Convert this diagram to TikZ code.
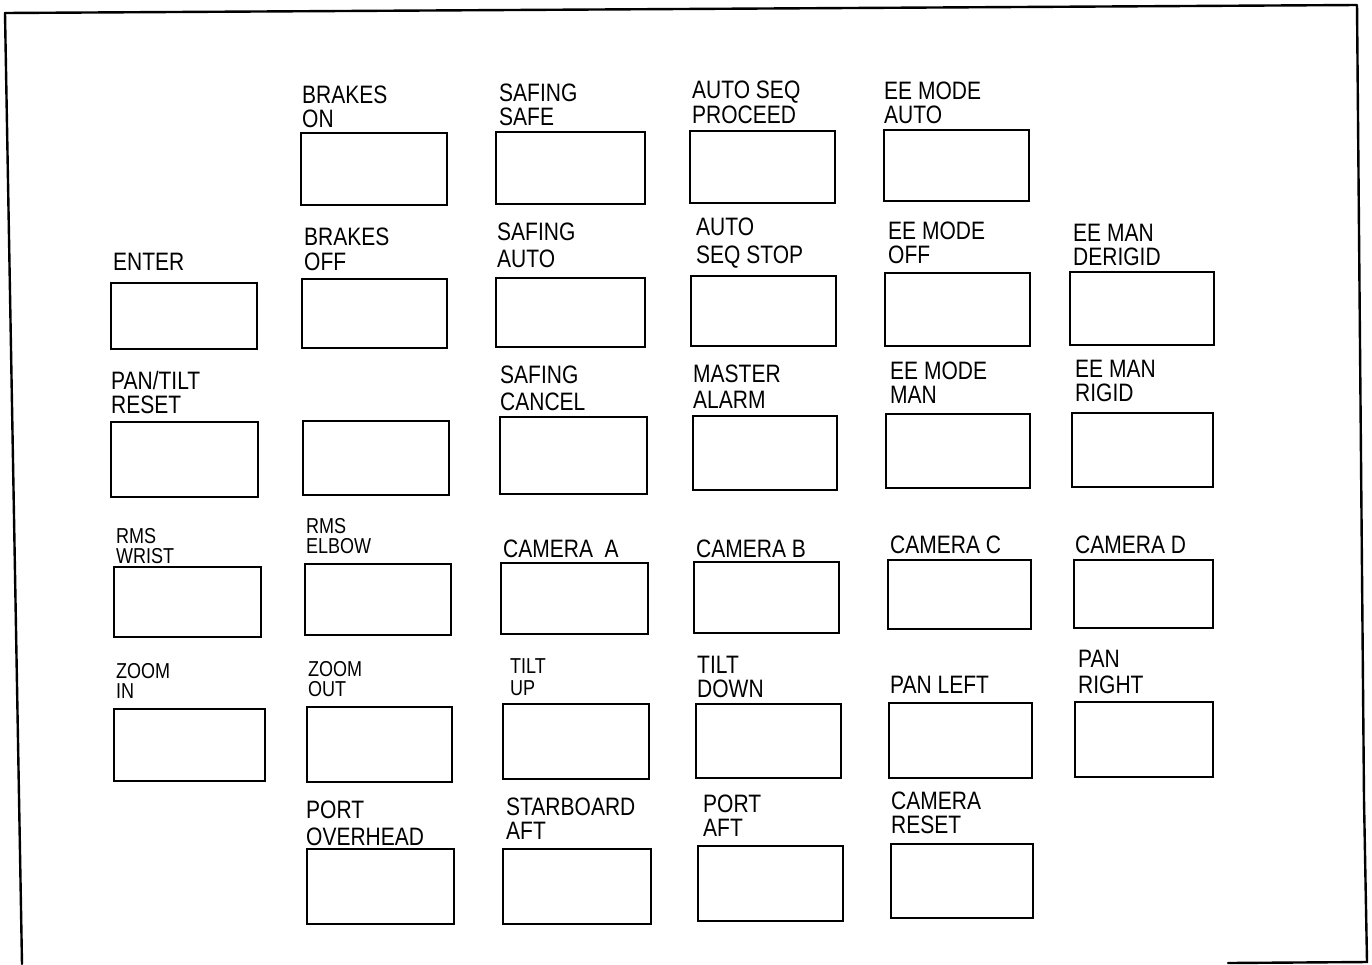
\documentclass[tikz,border=0pt]{standalone}
\usepackage{fontspec}
\usepackage{graphicx}
\setmainfont{Liberation Sans}
\newcommand\stretchy[1]{\scalebox{1}[1.2]{#1}}
\newcommand\twoline[3]{\stretchy{\vtop{\baselineskip=\dimexpr #1pt*5/6\relax\hbox{#2}\hbox{#3}}}}
\newcommand\oneline[1]{\stretchy{#1}}
\begin{document}
\begin{tikzpicture}[x=1pt,y=-1pt,
  frame/.style={line width=2.4pt,line cap=round,line join=round},
  btn/.style={draw,line width=1.9pt,rectangle,inner sep=0pt,anchor=north west},
  lbl/.style={anchor=base west,inner sep=0pt,font=\fontsize{21}{24}\selectfont},
  slbl/.style={anchor=base west,inner sep=0pt,font=\fontsize{18}{21}\selectfont}]
\useasboundingbox (0,0) rectangle (1372,964);
% outer frame
\coordinate (fbl) at (22,964);
\coordinate (ftl) at (5,13);
\coordinate (ftr) at (1357,5);
\coordinate (fmr) at (1364,800);
\coordinate (fbr) at (1367,962);
\coordinate (fbx) at (1228,963);
\draw[frame] (fbl) -- (ftl) -- (ftr) -- (fmr) -- (fbr) -- (fbx);
% boxes
\foreach \n/\xa/\ya/\xb/\yb in {
  bon/300/132/446/204, ssafe/495/131/644/203, aproc/689/130/834/202, eauto/883/129/1028/200,
  enter/110/282/256/348, boff/301/278/446/347, sauto/495/277/644/346, astop/690/275/835/345, eoff/884/272/1029/345, ederigid/1069/271/1213/344,
  ptreset/110/421/257/496, blank/302/420/448/494, scancel/499/416/646/493, malarm/692/415/836/489, eman/885/413/1029/487, erigid/1071/412/1212/486,
  wrist/113/566/260/636, elbow/304/563/450/634, cama/500/562/647/633, camb/693/561/838/632, camc/887/559/1030/628, camd/1073/559/1212/627,
  zin/113/708/264/780, zout/306/706/451/781, tup/502/703/648/778, tdown/695/703/840/777, pleft/888/702/1031/777, pright/1074/701/1212/776,
  portoh/306/848/453/923, stbaft/502/848/650/923, portaft/697/845/842/920, camreset/890/843/1032/917}
  { \node[btn,minimum width={(\xb-\xa)*1pt},minimum height={(\yb-\ya)*1pt}] (\n) at (\xa,\ya) {}; }
% labels row 0
\node[lbl] (l-bon) at (302,103) {\twoline{24}{BRAKES}{ON}};
\node[lbl] (l-ssafe) at (499,101) {\twoline{24}{SAFING}{SAFE}};
\node[lbl] (l-aproc) at (692,98) {\twoline{25}{AUTO SEQ}{PROCEED}};
\node[lbl] (l-eauto) at (884,99) {\twoline{24}{EE MODE}{AUTO}};
% row 1
\node[lbl] (l-enter) at (113,270) {\oneline{ENTER}};
\node[lbl] (l-boff) at (304,245) {\twoline{25}{BRAKES}{OFF}};
\node[lbl] (l-sauto) at (497,240) {\twoline{27}{SAFING}{AUTO}};
\node[lbl] (l-astop) at (696,235) {\twoline{28}{AUTO}{SEQ STOP}};
\node[lbl] (l-eoff) at (888,239) {\twoline{24}{EE MODE}{OFF}};
\node[lbl] (l-ederigid) at (1073,241) {\twoline{24}{EE MAN}{DERIGID}};
% row 2
\node[lbl] (l-ptreset) at (111,389) {\twoline{24}{PAN/TILT}{RESET}};
\node[lbl] (l-scancel) at (500,383) {\twoline{27}{SAFING}{CANCEL}};
\node[lbl] (l-malarm) at (693,382) {\twoline{26}{MASTER}{ALARM}};
\node[lbl] (l-eman) at (890,379) {\twoline{24}{EE MODE}{MAN}};
\node[lbl] (l-erigid) at (1075,377) {\twoline{24}{EE MAN}{RIGID}};
% row 3
\node[slbl] (l-wrist) at (116,543) {\twoline{20}{RMS}{WRIST}};
\node[slbl] (l-elbow) at (306,533) {\twoline{20}{RMS}{ELBOW}};
\node[lbl] (l-cama) at (503,557) {\oneline{CAMERA\ \ A}};
\node[lbl] (l-camb) at (696,557) {\oneline{CAMERA\ B}};
\node[lbl] (l-camc) at (890,553) {\oneline{CAMERA C}};
\node[lbl] (l-camd) at (1075,553) {\oneline{CAMERA D}};
% row 4
\node[slbl] (l-zin) at (116,678) {\twoline{20}{ZOOM}{IN}};
\node[slbl] (l-zout) at (308,676) {\twoline{20}{ZOOM}{OUT}};
\node[slbl] (l-tup) at (510,673) {\twoline{22}{TILT}{UP}};
\node[lbl] (l-tdown) at (697,673) {\twoline{24}{TILT}{DOWN}};
\node[lbl] (l-pleft) at (890,693) {\oneline{PAN LEFT}};
\node[lbl] (l-pright) at (1078,667) {\twoline{26}{PAN}{RIGHT}};
% row 5
\node[lbl] (l-portoh) at (306,818) {\twoline{27}{PORT}{OVERHEAD}};
\node[lbl] (l-stbaft) at (506,815) {\twoline{24}{STARBOARD}{AFT}};
\node[lbl] (l-portaft) at (703,812) {\twoline{24}{PORT}{AFT}};
\node[lbl] (l-camreset) at (891,809) {\twoline{24}{CAMERA}{RESET}};
\end{tikzpicture}
\end{document}
